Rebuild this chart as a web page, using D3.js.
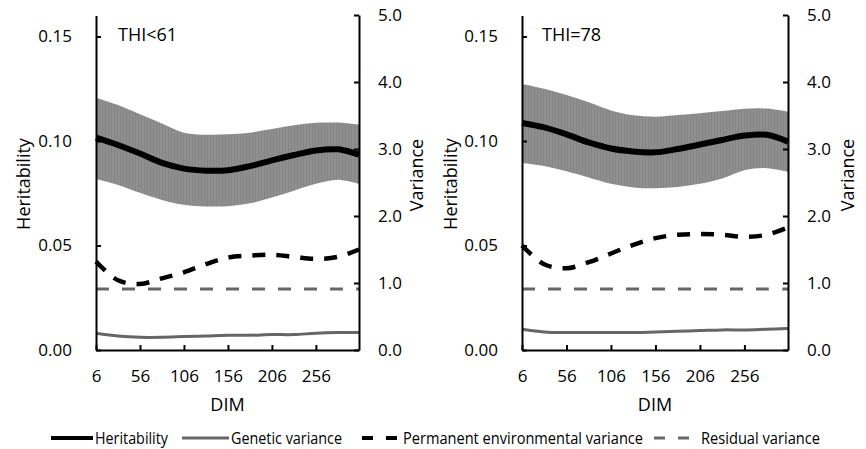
<!DOCTYPE html>
<html>
<head>
<meta charset="utf-8">
<script src="https://cdn.jsdelivr.net/npm/d3@7"></script>
<style>
  html, body { margin: 0; padding: 0; background: #fff; }
  svg { display: block; font-family: "Open Sans", "DejaVu Sans", sans-serif; }
</style>
</head>
<body>
<svg id="chart" width="866" height="449"></svg>
<script>
// ---------- data ----------
const dim = [6, 31, 56, 81, 106, 131, 156, 181, 206, 231, 256, 281, 305];

// THI<61
const h61      = [0.1016, 0.0981, 0.0940, 0.0895, 0.0868, 0.0858, 0.0860, 0.0880, 0.0907, 0.0933, 0.0955, 0.0960, 0.0935];
const h61Upper = [0.1207, 0.1172, 0.1128, 0.1084, 0.1040, 0.1030, 0.1032, 0.1040, 0.1058, 0.1075, 0.1087, 0.1088, 0.1078];
const h61Lower = [0.0818, 0.0790, 0.0752, 0.0718, 0.0695, 0.0687, 0.0688, 0.0702, 0.0730, 0.0762, 0.0795, 0.0815, 0.0795];
const gen61    = [0.25, 0.21, 0.19, 0.19, 0.20, 0.21, 0.22, 0.22, 0.23, 0.23, 0.25, 0.26, 0.26];
const pe61     = [1.32, 1.04, 0.985, 1.07, 1.16, 1.28, 1.38, 1.41, 1.42, 1.39, 1.36, 1.39, 1.50];
const res61    = [0.91, 0.91, 0.91, 0.91, 0.91, 0.91, 0.91, 0.91, 0.91, 0.91, 0.91, 0.91, 0.91];

// THI=78
const h78      = [0.1086, 0.1065, 0.1032, 0.0993, 0.0964, 0.0950, 0.0946, 0.0962, 0.0983, 0.1005, 0.1026, 0.1030, 0.0997];
const h78Upper = [0.1273, 0.1250, 0.1220, 0.1185, 0.1146, 0.1123, 0.1116, 0.1124, 0.1133, 0.1143, 0.1154, 0.1155, 0.1140];
const h78Lower = [0.0895, 0.0880, 0.0855, 0.0825, 0.0795, 0.0778, 0.0774, 0.0780, 0.0795, 0.0820, 0.0860, 0.0870, 0.0853];
const gen78    = [0.31, 0.27, 0.26, 0.26, 0.26, 0.26, 0.27, 0.28, 0.29, 0.30, 0.30, 0.31, 0.32];
const pe78     = [1.56, 1.28, 1.22, 1.31, 1.44, 1.57, 1.67, 1.72, 1.73, 1.72, 1.69, 1.72, 1.83];
const res78    = [0.91, 0.91, 0.91, 0.91, 0.91, 0.91, 0.91, 0.91, 0.91, 0.91, 0.91, 0.91, 0.91];

const panelTitles = ["THI<61", "THI=78"];
const xTicks = [6, 56, 106, 156, 206, 256];
const leftTicks = [0, 0.05, 0.10, 0.15];
const rightTicks = [0, 1, 2, 3, 4, 5];
const xDomain = [6, 305];
const leftDomain = [0, 0.16];
const rightDomain = [0, 5];
const legendLabels = ["Heritability", "Genetic variance", "Permanent environmental variance", "Residual variance"];

// ---------- layout ----------
const svg = d3.select("#chart");
const plotTop = 15, plotBottom = 350;
const panels = [
  { L: 96,  R: 359, title: panelTitles[0], titleX: 118, hLabX: 29.5, vLabX: 423,
    h: h61, hu: h61Upper, hl: h61Lower, gen: gen61, pe: pe61, res: res61 },
  { L: 522, R: 788, title: panelTitles[1], titleX: 542, hLabX: 457, vLabX: 853.5,
    h: h78, hu: h78Upper, hl: h78Lower, gen: gen78, pe: pe78, res: res78 }
];

const GRAY = "#666666";
const BAND = "#8f8f8f";

// stripe pattern for the error band (vertical error bars)
const defs = svg.append("defs");
const pat = defs.append("pattern").attr("id", "stripes")
  .attr("patternUnits", "userSpaceOnUse").attr("width", 3).attr("height", 10);
pat.append("rect").attr("width", 3).attr("height", 10).attr("fill", BAND);
pat.append("rect").attr("width", 1).attr("height", 10).attr("fill", "#858585");

panels.forEach(p => {
  const x = d3.scaleLinear().domain(xDomain).range([p.L, p.R]);
  const yL = d3.scaleLinear().domain(leftDomain).range([plotBottom, plotTop + 0.6]);
  const yR = d3.scaleLinear().domain(rightDomain).range([plotBottom, plotTop]);
  const g = svg.append("g");
  const curve = d3.curveCatmullRom.alpha(0.5);

  // band
  const area = d3.area().curve(curve)
    .x((d, i) => x(dim[i])).y0((d, i) => yL(p.hl[i])).y1((d, i) => yL(p.hu[i]));
  g.append("path").datum(dim).attr("d", area).attr("fill", "url(#stripes)");

  const lineL = arr => d3.line().curve(curve).x((d, i) => x(dim[i])).y((d, i) => yL(arr[i]))(dim);
  const lineR = arr => d3.line().curve(curve).x((d, i) => x(dim[i])).y((d, i) => yR(arr[i]))(dim);

  // heritability
  g.append("path").attr("d", lineL(p.h)).attr("fill", "none")
    .attr("stroke", "#000").attr("stroke-width", 6);

  // residual variance
  g.append("path").attr("d", lineR(p.res)).attr("fill", "none")
    .attr("stroke", GRAY).attr("stroke-width", 3).attr("stroke-dasharray", "13,13");

  // permanent environmental variance
  g.append("path").attr("d", lineR(p.pe)).attr("fill", "none")
    .attr("stroke", "#000").attr("stroke-width", 4.5).attr("stroke-dasharray", "13,11");

  // genetic variance
  g.append("path").attr("d", lineR(p.gen)).attr("fill", "none")
    .attr("stroke", GRAY).attr("stroke-width", 3);

  // axes
  const ax = svg.append("g");
  const left = ax.append("g").attr("transform", `translate(${p.L},0)`)
    .call(d3.axisLeft(yL).tickValues(leftTicks).tickFormat(d3.format(".2f"))
      .tickSize(-5).tickSizeOuter(0).tickPadding(24));
  const right = ax.append("g").attr("transform", `translate(${p.R},0)`)
    .call(d3.axisRight(yR).tickValues(rightTicks).tickFormat(d3.format(".1f"))
      .tickSize(-5).tickSizeOuter(0).tickPadding(19));
  const xa = ax.append("g").attr("transform", `translate(0,${plotBottom})`)
    .call(d3.axisBottom(x).tickValues(xTicks).tickFormat(d3.format("d"))
      .tickSize(-5).tickSizeOuter(0).tickPadding(20));
  [left, right, xa].forEach(a => {
    a.attr("font-family", null).attr("font-size", null);
    a.select(".domain").attr("stroke", "#000").attr("stroke-width", 2);
    a.selectAll(".tick line").attr("stroke", "#000").attr("stroke-width", 2);
    a.selectAll(".tick text").attr("fill", "#000").style("font-size", "17px");
  });

  // titles & labels
  svg.append("text").attr("x", p.titleX).attr("y", 41)
    .style("font-size", "18px").attr("fill", "#000").text(p.title);
  svg.append("text").attr("x", (p.L + p.R) / 2).attr("y", 411)
    .attr("text-anchor", "middle").style("font-size", "18px").attr("fill", "#000").text("DIM");
  svg.append("text").attr("transform", `translate(${p.hLabX},184) rotate(-90)`)
    .attr("text-anchor", "middle").style("font-size", "18px").attr("fill", "#000").text("Heritability");
  svg.append("text").attr("transform", `translate(${p.vLabX},175) rotate(-90)`)
    .attr("text-anchor", "middle").style("font-size", "18px").attr("fill", "#000").text("Variance");
});

// ---------- legend ----------
const legendY = 438;
const legendLayout = [
  { x0: 51,  x1: 93,  tx: 95,  tw: 73,  stroke: "#000", w: 4, dash: null },
  { x0: 182, x1: 229, tx: 231, tw: 111, stroke: GRAY,   w: 3, dash: null },
  { x0: 362, x1: 397, tx: 403, tw: 240, stroke: "#000", w: 4, dash: "11,13" },
  { x0: 654, x1: 690, tx: 701, tw: 119, stroke: GRAY,   w: 3, dash: "11,13" }
];
const lg = svg.append("g");
legendLabels.forEach((lab, i) => {
  const l = legendLayout[i];
  lg.append("line").attr("x1", l.x0).attr("x2", l.x1).attr("y1", legendY).attr("y2", legendY)
    .attr("stroke", l.stroke).attr("stroke-width", l.w)
    .attr("stroke-dasharray", l.dash);
  lg.append("text").attr("x", l.tx).attr("y", legendY).attr("dy", "0.35em")
    .attr("textLength", l.tw).attr("lengthAdjust", "spacingAndGlyphs")
    .style("font-size", "16px").attr("fill", "#000").text(lab);
});
</script>
</body>
</html>
